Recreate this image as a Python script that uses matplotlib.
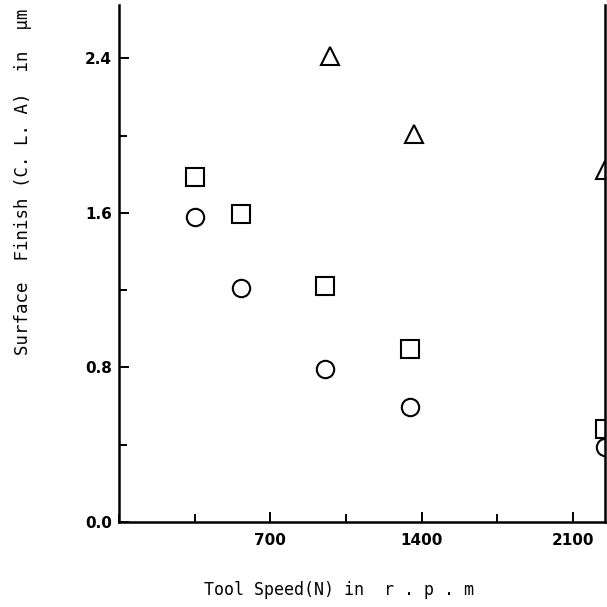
import numpy as np
import matplotlib
matplotlib.use('Agg')
import matplotlib.pyplot as plt
from matplotlib.ticker import MultipleLocator

# tool speed (rpm) and surface finish CLA (um)
speed = [350, 565, 955, 1345, 2250]
finish_circle = [1.58, 1.21, 0.79, 0.595, 0.39]
finish_square = [1.785, 1.595, 1.22, 0.895, 0.48]
speed_tri = [978, 1363, 2250]
finish_tri = [2.41, 2.01, 1.82]

xticks = [700, 1400, 2100]
yticks = [0.0, 0.8, 1.6, 2.4]

fig = plt.figure(figsize=(6.07, 6.07), dpi=100)
ax = fig.add_axes([0.196, 0.140, 0.801, 0.852])

mk = dict(linestyle='none', markerfacecolor='none', markeredgecolor='black',
          markeredgewidth=1.5, markersize=12.5)
ax.plot(speed, finish_circle, marker='o', **mk)
ax.plot(speed, finish_square, marker='s', **mk)
ax.plot(speed_tri, finish_tri, marker='^', **mk)

ax.set_xlim(0, 2250)
ax.set_ylim(0, 2.677)
ax.set_xticks(xticks)
ax.set_yticks(yticks)
ax.set_yticklabels(['0.0', '0.8', '1.6', '2.4'])
ax.xaxis.set_minor_locator(MultipleLocator(350))
ax.yaxis.set_minor_locator(MultipleLocator(0.4))

ax.tick_params(which='both', direction='in', width=1.4, labelsize=11)
ax.tick_params(which='major', length=7)
ax.tick_params(which='minor', length=6)
ax.tick_params(axis='y', pad=5)
ax.tick_params(axis='x', pad=8)
for lab in ax.get_xticklabels() + ax.get_yticklabels():
    lab.set_fontweight('semibold')

for s in ['left', 'bottom', 'right']:
    ax.spines[s].set_linewidth(1.8)
ax.spines['top'].set_visible(False)

fig.text(0.558, 0.028, 'Tool Speed(N) in  r . p . m', ha='center', va='center',
         fontsize=12, family='DejaVu Sans Mono')
fig.text(0.038, 0.70, 'Surface  Finish (C. L. A)  in  \u03bcm', rotation=90,
         ha='center', va='center', fontsize=12.5, family='DejaVu Sans Mono')

fig.savefig('out.png', dpi=100)
